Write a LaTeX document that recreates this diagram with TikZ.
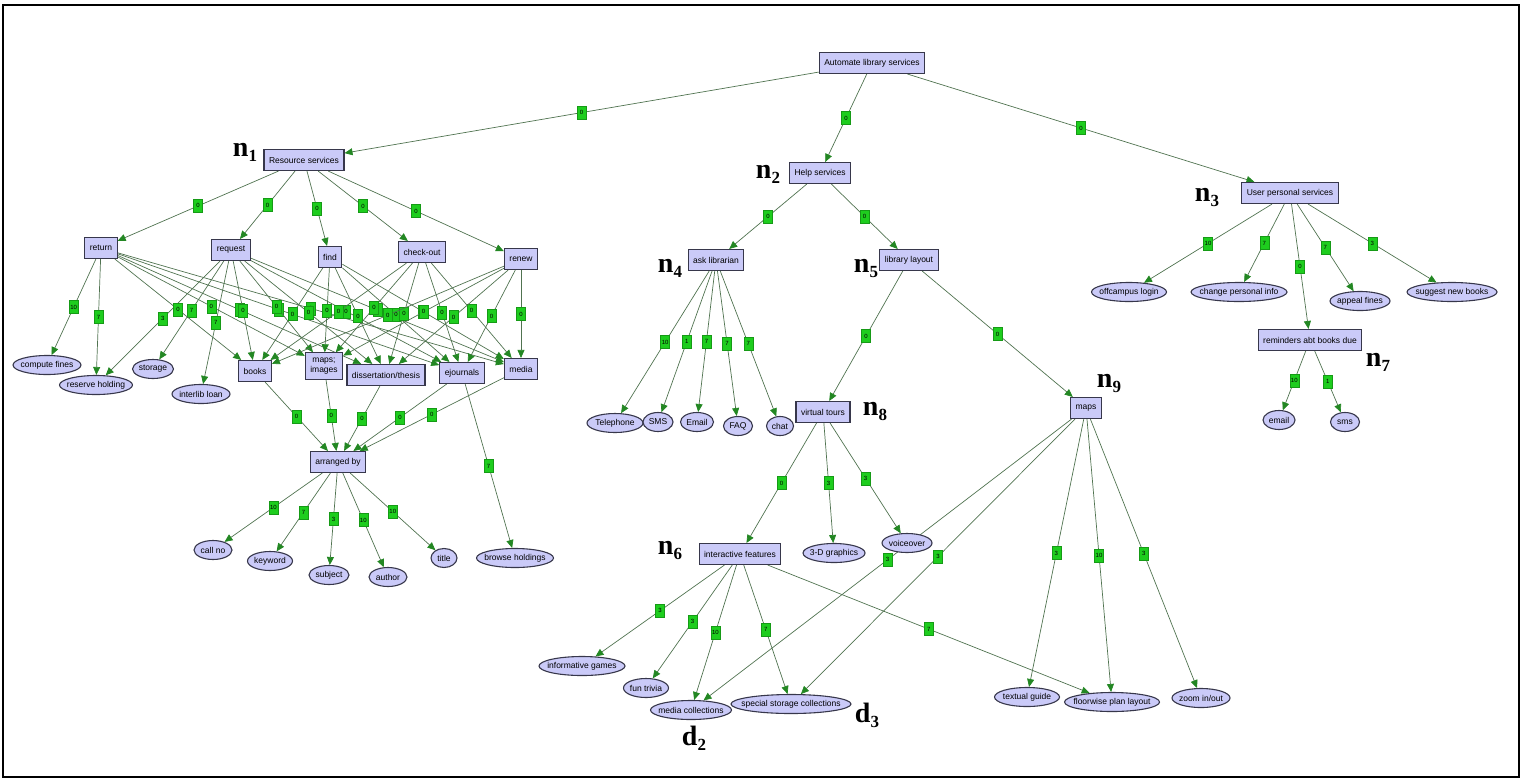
\documentclass[tikz,border=0pt]{standalone}
\usepackage{fontspec}
\setmainfont{Liberation Sans}
\newfontfamily\tagfont{Liberation Serif}
\usepackage{tikz}
\usetikzlibrary{arrows.meta, shapes.geometric, backgrounds}
\definecolor{lav}{RGB}{202,202,248}
\definecolor{rim}{RGB}{55,55,75}
\definecolor{linegreen}{RGB}{80,115,80}
\definecolor{tipgreen}{RGB}{35,135,35}
\definecolor{wtgreen}{RGB}{30,205,30}
\tikzset{
        goal/.style={draw=rim, fill=lav, line width=1.1pt, minimum height=21pt, inner xsep=5pt, inner ysep=2pt, font=\fontsize{8.5}{10}\selectfont}, % requirement boxes
        leaf/.style={ellipse, draw=rim, fill=lav, line width=1.1pt, minimum height=19pt, minimum width=#1, inner xsep=-12pt, inner ysep=0pt, font=\fontsize{8.5}{10}\selectfont}, % operations
        link/.style={draw=linegreen, line width=0.7pt, -{Triangle[length=8pt,width=7pt,color=tipgreen]}},
        weight/.style={fill=wtgreen, draw=wtgreen!75!black, line width=0.3pt, inner sep=0pt, minimum width=9pt, minimum height=13pt, font=\fontsize{6}{6}\selectfont},
    }
\tikzstyle{tag}=[font=\tagfont\bfseries\fontsize{28}{28}\selectfont, inner sep=0pt]
\newcommand{\tagsub}[2]{#1\raisebox{-5pt}{\fontsize{17}{17}\selectfont #2}}

\begin{document}
\begin{tikzpicture}[x=1pt, y=-1pt]
    \useasboundingbox (0,0) rectangle (1536,780);
    \draw[line width=2.2pt] (3,5) rectangle (1519,777);

    % goals
    \node[goal] (root) at (872,63) {Automate library services};
    \node[goal] (res) at (304,160) {Resource services};
    \node[goal] (help) at (820,173) {Help services};
    \node[goal] (user) at (1290,193) {User personal services};
    \node[goal] (ret) at (101,248) {return};
    \node[goal] (req) at (231,250) {request};
    \node[goal] (find) at (330,257) {find};
    \node[goal] (chk) at (422,252) {check-out};
    \node[goal] (ren) at (521,259) {renew};
    \node[goal] (books) at (255,371) {books};
    \node[goal, align=center, inner ysep=5pt] (maps) at (324,366) {maps;\\images};
    \node[goal] (diss) at (386,375) {dissertation/thesis};
    \node[goal] (ejour) at (462,373) {ejournals};
    \node[goal] (media) at (521,369) {media};
    \node[goal] (arr) at (338,462) {arranged by};
    \node[goal] (ask) at (716,260) {ask librarian};
    \node[goal] (layout) at (909,260) {library layout};
    \node[goal] (vtour) at (823,412) {virtual tours};
    \node[goal] (mapsb) at (1086,408) {maps};
    \node[goal] (ifeat) at (740,554) {interactive features};
    \node[goal] (remind) at (1310,340) {reminders abt books due};

    % operations
    \node[leaf=68pt] (fines) at (47,365) {compute fines};
    \node[leaf=73pt] (reserve) at (96,385) {reserve holding};
    \node[leaf=41pt] (storage) at (153,369) {storage};
    \node[leaf=58pt] (ill) at (201,394) {interlib loan};
    \node[leaf=38pt] (callno) at (213,550) {call no};
    \node[leaf=45pt] (keyword) at (270,561) {keyword};
    \node[leaf=40pt] (subject) at (329,575) {subject};
    \node[leaf=38pt] (author) at (388,577) {author};
    \node[leaf=26pt] (title) at (444,558) {title};
    \node[leaf=77pt] (browse) at (515,558) {browse holdings};
    \node[leaf=56pt] (phone) at (615,423) {Telephone};
    \node[leaf=30pt] (sms) at (658,422) {SMS};
    \node[leaf=33pt] (email) at (697,422) {Email};
    \node[leaf=29pt] (faq) at (738,426) {FAQ};
    \node[leaf=27pt] (chat) at (780,426) {chat};
    \node[leaf=62pt] (graphics) at (834,553) {3-D graphics};
    \node[leaf=50pt] (voice) at (907,543) {voiceover};
    \node[leaf=86pt] (games) at (582,666) {informative games};
    \node[leaf=45pt] (trivia) at (646,688) {fun trivia};
    \node[leaf=81pt] (mcoll) at (691,710) {media collections};
    \node[leaf=120pt] (scoll) at (791,704) {special storage collections};
    \node[leaf=65pt] (textual) at (1027,697) {textual guide};
    \node[leaf=95pt] (floor) at (1112,702) {floorwise plan layout};
    \node[leaf=58pt] (zoom) at (1201,698) {zoom in/out};
    \node[leaf=75pt] (offcamp) at (1129,292) {offcampus login};
    \node[leaf=96pt] (change) at (1239,292) {change personal info};
    \node[leaf=60pt] (appeal) at (1360,301) {appeal fines};
    \node[leaf=90pt] (suggest) at (1452,292) {suggest new books};
    \node[leaf=32pt] (remail) at (1279,420) {email};
    \node[leaf=29pt] (rsms) at (1345,422) {sms};

    % node tags
    \node[tag] (n1) at (245,152) {\tagsub{n}{1}};
    \node[tag] (n2) at (768,174) {\tagsub{n}{2}};
    \node[tag] (n3) at (1207,197) {\tagsub{n}{3}};
    \node[tag] (n4) at (670,268) {\tagsub{n}{4}};
    \node[tag] (n5) at (866,268) {\tagsub{n}{5}};
    \node[tag] (n6) at (670,550) {\tagsub{n}{6}};
    \node[tag] (n7) at (1378,362) {\tagsub{n}{7}};
    \node[tag] (n8) at (875,411) {\tagsub{n}{8}};
    \node[tag] (n9) at (1109,383) {\tagsub{n}{9}};
    \node[tag] (d2) at (694,738) {\tagsub{d}{2}};
    \node[tag] (d3) at (867,715) {\tagsub{d}{3}};

    \begin{scope}[on background layer]
    \draw[link] (root) -- node[weight]{0} (res);
    \draw[link] (root) -- node[weight]{0} (help);
    \draw[link] (root) -- node[weight]{0} (user);

    \draw[link] (res) -- node[weight]{0} (ret);
    \draw[link] (res) -- node[weight]{0} (req);
    \draw[link] (res) -- node[weight]{0} (find);
    \draw[link] (res) -- node[weight]{0} (chk);
    \draw[link] (res) -- node[weight]{0} (ren);

    \draw[link] (ret) -- node[weight]{10} (fines);
    \draw[link] (ret) -- node[weight]{7} (reserve);
    \draw[link] (req) -- node[weight]{3} (reserve);
    \draw[link] (req) -- node[weight]{7} (storage);
    \draw[link] (req) -- node[weight]{7} (ill);

    \draw[link] (ret) -- node[weight]{0} (books);
    \draw[link] (ret) -- node[weight]{0} (maps);
    \draw[link] (ret) -- node[weight]{0} (diss);
    \draw[link] (ret) -- node[weight]{0} (ejour);
    \draw[link] (ret) -- node[weight]{0} (media);
    \draw[link] (req) -- node[weight]{0} (books);
    \draw[link] (req) -- node[weight]{0} (maps);
    \draw[link] (req) -- node[weight]{0} (diss);
    \draw[link] (req) -- node[weight]{0} (ejour);
    \draw[link] (req) -- node[weight]{0} (media);
    \draw[link] (find) -- node[weight]{0} (books);
    \draw[link] (find) -- node[weight]{0} (maps);
    \draw[link] (find) -- node[weight]{0} (diss);
    \draw[link] (find) -- node[weight]{0} (ejour);
    \draw[link] (find) -- node[weight]{0} (media);
    \draw[link] (chk) -- node[weight]{0} (books);
    \draw[link] (chk) -- node[weight]{0} (maps);
    \draw[link] (chk) -- node[weight]{0} (diss);
    \draw[link] (chk) -- node[weight]{0} (ejour);
    \draw[link] (chk) -- node[weight]{0} (media);
    \draw[link] (ren) -- node[weight]{0} (books);
    \draw[link] (ren) -- node[weight]{0} (maps);
    \draw[link] (ren) -- node[weight]{0} (diss);
    \draw[link] (ren) -- node[weight]{0} (ejour);
    \draw[link] (ren) -- node[weight]{0} (media);

    \draw[link] (books) -- node[weight]{0} (arr);
    \draw[link] (maps) -- node[weight]{0} (arr);
    \draw[link] (diss) -- node[weight]{0} (arr);
    \draw[link] (ejour) -- node[weight]{0} (arr);
    \draw[link] (media) -- node[weight]{0} (arr);
    \draw[link] (ejour) -- node[weight]{7} (browse);

    \draw[link] (arr) -- node[weight]{10} (callno);
    \draw[link] (arr) -- node[weight]{7} (keyword);
    \draw[link] (arr) -- node[weight]{3} (subject);
    \draw[link] (arr) -- node[weight]{10} (author);
    \draw[link] (arr) -- node[weight]{10} (title);

    \draw[link] (help) -- node[weight]{0} (ask);
    \draw[link] (help) -- node[weight]{0} (layout);
    \draw[link] (ask) -- node[weight]{10} (phone);
    \draw[link] (ask) -- node[weight]{1} (sms);
    \draw[link] (ask) -- node[weight]{7} (email);
    \draw[link] (ask) -- node[weight]{7} (faq);
    \draw[link] (ask) -- node[weight]{7} (chat);
    \draw[link] (layout) -- node[weight]{0} (vtour);
    \draw[link] (layout) -- node[weight]{0} (mapsb);

    \draw[link] (vtour) -- node[weight]{0} (ifeat);
    \draw[link] (vtour) -- node[weight]{3} (graphics);
    \draw[link] (vtour) -- node[weight]{3} (voice);
    \draw[link] (ifeat) -- node[weight]{3} (games);
    \draw[link] (ifeat) -- node[weight]{3} (trivia);
    \draw[link] (ifeat) -- node[weight]{10} (mcoll);
    \draw[link] (ifeat) -- node[weight]{7} (scoll);
    \draw[link] (ifeat) -- node[weight]{7} (floor);

    \draw[link] (mapsb) -- node[weight]{3} (mcoll);
    \draw[link] (mapsb) -- node[weight]{3} (scoll);
    \draw[link] (mapsb) -- node[weight]{3} (textual);
    \draw[link] (mapsb) -- node[weight]{10} (floor);
    \draw[link] (mapsb) -- node[weight]{3} (zoom);

    \draw[link] (user) -- node[weight]{10} (offcamp);
    \draw[link] (user) -- node[weight]{7} (change);
    \draw[link] (user) -- node[weight]{0} (remind);
    \draw[link] (user) -- node[weight]{7} (appeal);
    \draw[link] (user) -- node[weight]{3} (suggest);
    \draw[link] (remind) -- node[weight]{10} (remail);
    \draw[link] (remind) -- node[weight]{1} (rsms);
    \end{scope}
\end{tikzpicture}
\end{document}
